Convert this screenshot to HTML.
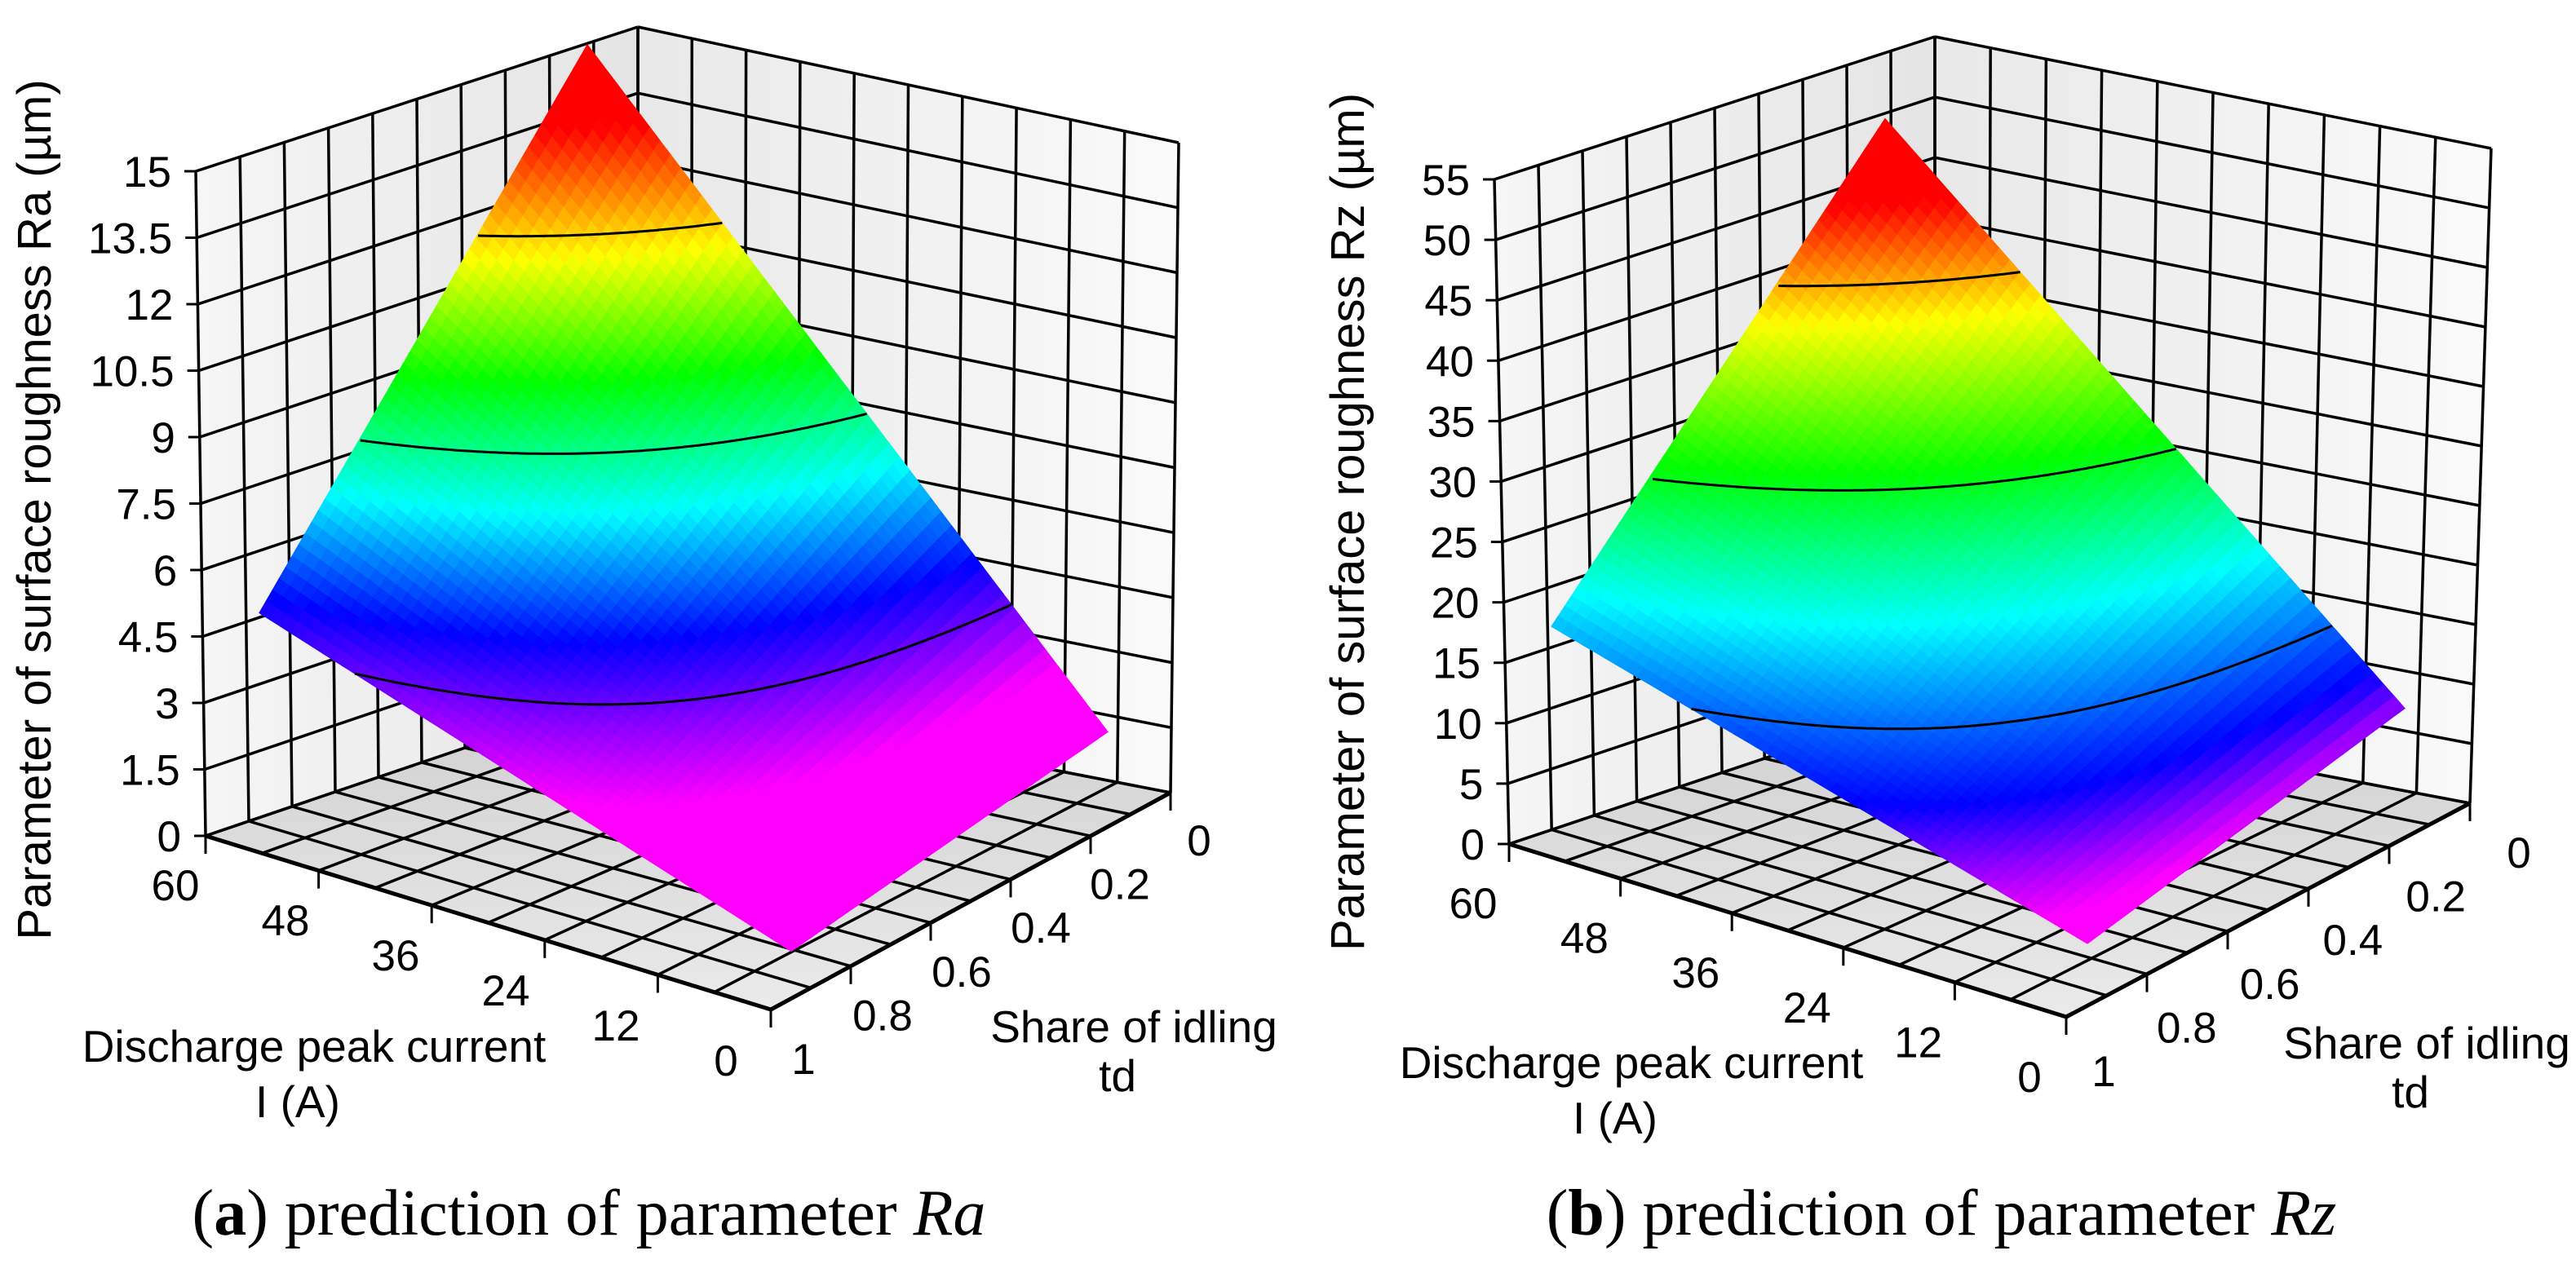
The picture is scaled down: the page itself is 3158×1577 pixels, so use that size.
<!DOCTYPE html>
<html><head><meta charset="utf-8">
<style>
html,body{margin:0;padding:0;background:#fff;}
svg{display:block;}
text{font-family:"Liberation Sans",Arial,sans-serif;fill:#000;}
.cap{font-family:"Liberation Serif","Times New Roman",serif;}
</style></head>
<body>
<svg id="fig" width="3158" height="1577" viewBox="0 0 3158 1577" xmlns="http://www.w3.org/2000/svg">
<defs>
<linearGradient id="wallL" x1="0" y1="0" x2="1" y2="0"><stop offset="0" stop-color="#f6f6f6"/><stop offset="1" stop-color="#e4e4e4"/></linearGradient>
<linearGradient id="wallR" x1="0" y1="0" x2="1" y2="0"><stop offset="0" stop-color="#e8e8e8"/><stop offset="1" stop-color="#fafafa"/></linearGradient>
<linearGradient id="floorG" x1="0" y1="0" x2="0" y2="1"><stop offset="0" stop-color="#cfcfcf"/><stop offset="1" stop-color="#eaeaea"/></linearGradient>
</defs>
<g id="chartA"></g>
<g id="chartB"></g>
<text class="cap" x="722" y="1514" font-size="80" text-anchor="middle">(<tspan font-weight="bold">a</tspan>) prediction of parameter <tspan font-style="italic">Ra</tspan></text>
<text class="cap" x="2380" y="1514" font-size="80" text-anchor="middle">(<tspan font-weight="bold">b</tspan>) prediction of parameter <tspan font-style="italic">Rz</tspan></text>
</svg>
<script>
// ---- data ----
const currentValues = [0, 30, 60];            // I (A) grid
const idlingValues = [0, 0.5, 1];            // td grid
// rows = td, cols = I
const raGrid = [
  [1.5, 9.6, 17.7],
  [1.4, 6.4, 11.45],
  [1.3, 3.25, 5.2]
];
const rzGrid = [
  [8, 33, 58],
  [6.5, 22.4, 38.2],
  [5, 11.8, 18.5]
];
const raTicks = ["0","1.5","3","4.5","6","7.5","9","10.5","12","13.5","15"];
const rzTicks = ["0","5","10","15","20","25","30","35","40","45","50","55"];
const iTicks = ["60","48","36","24","12","0"];
const tdTicks = ["0","0.2","0.4","0.6","0.8","1"];
const raContours = [4.5, 9, 13.5];
const rzContours = [15, 30, 45];

const NS = "http://www.w3.org/2000/svg";
function mk(parent, tag, attrs){
  const e = document.createElementNS(NS, tag);
  for (const k in attrs) e.setAttribute(k, attrs[k]);
  parent.appendChild(e);
  return e;
}
function lerp(a,b,t){return [a[0]+(b[0]-a[0])*t, a[1]+(b[1]-a[1])*t];}
function bil(q00,q10,q01,q11,u,v){
  return [(1-u)*(1-v)*q00[0]+u*(1-v)*q10[0]+(1-u)*v*q01[0]+u*v*q11[0],
          (1-u)*(1-v)*q00[1]+u*(1-v)*q10[1]+(1-u)*v*q01[1]+u*v*q11[1]];
}
function gridVal(grid,u,v){
  const Imax = currentValues[currentValues.length-1];
  const I = u*Imax, td = v;
  let ci = 0; while (ci < currentValues.length-2 && I > currentValues[ci+1]) ci++;
  let ri = 0; while (ri < idlingValues.length-2 && td > idlingValues[ri+1]) ri++;
  const tu = (I-currentValues[ci])/(currentValues[ci+1]-currentValues[ci]);
  const tv = (td-idlingValues[ri])/(idlingValues[ri+1]-idlingValues[ri]);
  const a=grid[ri][ci], b=grid[ri][ci+1], c=grid[ri+1][ci], d=grid[ri+1][ci+1];
  return (1-tu)*(1-tv)*a + tu*(1-tv)*b + (1-tu)*tv*c + tu*tv*d;
}
function colorFor(z, stops){
  const cols = [[255,0,255],[0,0,255],[0,255,255],[0,255,0],[255,255,0],[255,0,0]];
  if (z <= stops[0]) return "rgb(255,0,255)";
  for (let i=0;i<stops.length-1;i++){
    if (z <= stops[i+1]){
      const t=(z-stops[i])/(stops[i+1]-stops[i]);
      const c=cols[i].map((x,k)=>Math.round(x+(cols[i+1][k]-x)*t));
      return "rgb("+c.join(",")+")";
    }
  }
  return "rgb(255,0,0)";
}

function drawChart(g, cfg){
  const B = cfg.box;
  const lw = mk(g,"polygon",{points:[B.lt,B.bt,B.bb,B.lb].map(p=>p.join(",")).join(" "),fill:"url(#wallL)",stroke:"none"});
  
  
  const rw = mk(g,"polygon",{points:[B.bt,B.rt,B.rb,B.bb].map(p=>p.join(",")).join(" "),fill:"url(#wallR)",stroke:"none"});
  
  
  const fl = mk(g,"polygon",{points:[B.lb,B.bb,B.rb,B.fb].map(p=>p.join(",")).join(" "),fill:"url(#floorG)",stroke:"none"});
  
  
  const gl = mk(g,"g",{stroke:"#000","stroke-width":3.5,fill:"none"});
  
  
  const nz = cfg.zTicks.length-1;
  const line=(a,b,w)=>mk(gl,"line",{x1:a[0],y1:a[1],x2:b[0],y2:b[1],"stroke-width":w||3.5});
  for (let k=0;k<=nz;k++){
    const t=k/nz;
    line(lerp(B.lb,B.lt,t), lerp(B.bb,B.bt,t));
    line(lerp(B.bb,B.bt,t), lerp(B.rb,B.rt,t));
  }
  for (let k=0;k<=10;k++){
    const t=k/10;
    line(lerp(B.lb,B.bb,t), lerp(B.lt,B.bt,t));
    line(lerp(B.bb,B.rb,t), lerp(B.bt,B.rt,t));
    line(lerp(B.lb,B.bb,t), lerp(B.fb,B.rb,t));
    line(lerp(B.lb,B.fb,t), lerp(B.bb,B.rb,t));
  }
  line(B.lb,B.fb,5); line(B.fb,B.rb,5);
  for (let k=0;k<=5;k++){
    const p=lerp(B.lb,B.fb,k/5); line(p,[p[0],p[1]+22],3);
    const q=lerp(B.fb,B.rb,k/5); line(q,[q[0],q[1]+22],3);
  }
  for (let k=0;k<=nz;k++){
    const p=lerp(B.lb,B.lt,k/nz); line([p[0]-14,p[1]],p,3);
  }

  const Q = cfg.q, s = cfg.zScale;
  const P=(u,v)=>{const z=gridVal(cfg.grid,u,v); const f=bil(Q.q00,Q.q10,Q.q01,Q.q11,u,v); return [f[0], f[1]-z*s];};
  const N=50, cells=[];
  for (let i=0;i<N;i++) for (let j=0;j<N;j++) cells.push([i,j]);
  cells.sort((a,b)=>((b[0]-b[1])-(a[0]-a[1])));
  const sg = mk(g,"g",{});
  
  
  for (const [i,j] of cells){
    const u0=i/N,u1=(i+1)/N,v0=j/N,v1=(j+1)/N;
    const pts=[P(u0,v0),P(u1,v0),P(u1,v1),P(u0,v1)];
    const col=colorFor(gridVal(cfg.grid,(u0+u1)/2,(v0+v1)/2),cfg.stops);
    mk(sg,"polygon",{points:pts.map(p=>p[0].toFixed(1)+","+p[1].toFixed(1)).join(" "),fill:col,stroke:col,"stroke-width":1.2});
  }
  for (const L of cfg.contours){
    const pts=[];
    for (let k=0;k<=200;k++){
      const v=k/200;
      const f0=gridVal(cfg.grid,0,v), f1=gridVal(cfg.grid,1,v);
      if ((L-f0)*(L-f1)>0) continue;
      let lo=0,hi=1;
      for (let it=0;it<40;it++){const m=(lo+hi)/2; if((gridVal(cfg.grid,m,v)-L)*(f0-L)>0) lo=m; else hi=m;}
      const p=P((lo+hi)/2,v); pts.push(p[0].toFixed(1)+","+p[1].toFixed(1));
    }
    const c = mk(g,"polyline",{points:pts.join(" "),fill:"none",stroke:"#000","stroke-width":3});
    
    
  }
  for (let k=0;k<=nz;k++){
    const p=lerp(B.lb,B.lt,k/nz);
    const t=mk(g,"text",{x:p[0]-30,y:p[1]+19,"font-size":53,"text-anchor":"end"});
    t.textContent=cfg.zTicks[k];
    
    
  }
  for (let k=0;k<iTicks.length;k++){
    const p=lerp(cfg.iLab0,cfg.iLab1,k/(iTicks.length-1));
    const t=mk(g,"text",{x:p[0],y:p[1]+19,"font-size":53,"text-anchor":"middle"});
    t.textContent=iTicks[k];
    
    
  }
  for (let k=0;k<tdTicks.length;k++){
    const p=lerp(cfg.tLab0,cfg.tLab1,k/(tdTicks.length-1));
    const t=mk(g,"text",{x:p[0],y:p[1]+19,"font-size":53,"text-anchor":"middle"});
    t.textContent=tdTicks[k];
    
    
  }
  const yt=mk(g,"text",{x:0,y:0,"font-size":58,"text-anchor":"middle",transform:"translate("+cfg.yTitle[0]+","+cfg.yTitle[1]+") rotate(-90)"});
  yt.textContent=cfg.yTitleText;
  
  
  const a1=mk(g,"text",{x:cfg.iTitle[0],y:cfg.iTitle[1],"font-size":55,"text-anchor":"middle"});
  a1.textContent="Discharge peak current";
  
  
  const a2=mk(g,"text",{x:cfg.iTitle[0]-20,y:cfg.iTitle[1]+68,"font-size":55,"text-anchor":"middle"});
  a2.textContent="I (A)";
  
  
  const b1=mk(g,"text",{x:cfg.tTitle[0],y:cfg.tTitle[1],"font-size":55,"text-anchor":"middle"});
  b1.textContent="Share of idling";
  
  
  const b2=mk(g,"text",{x:cfg.tTitle[0]-20,y:cfg.tTitle[1]+60,"font-size":55,"text-anchor":"middle"});
  b2.textContent="td";
  
  
}

drawChart(document.getElementById("chartA"),{
  box:{lt:[240,210],lb:[252,1025],bt:[782,33],bb:[782,845],rt:[1445,175],rb:[1435,972],fb:[945,1238]},
  q:{q00:[1358,979],q10:[720,1016],q01:[970,1237],q11:[318,1034]},
  zScale:54.3, grid:raGrid, stops:[3,5.5,7.8,10.4,13,15.8], contours:raContours,
  zTicks:raTicks, iLab0:[215,1085], iLab1:[890,1300], tLab0:[1470,1030], tLab1:[985,1298],
  yTitle:[62,625], yTitleText:"Parameter of surface roughness Ra (\u00b5m)",
  iTitle:[385,1302], tTitle:[1390,1278]
});
drawChart(document.getElementById("chartB"),{
  box:{lt:[1832,220],lb:[1850,1035],bt:[2372,45],bb:[2372,860],rt:[3054,182],rb:[3028,985],fb:[2533,1247]},
  q:{q00:[2948,987],q10:[2311,1004],q01:[2559,1231],q11:[1902,1042]},
  zScale:14.8, grid:rzGrid, stops:[6,11,21,31,42,51], contours:rzContours,
  zTicks:rzTicks, iLab0:[1806,1107], iLab1:[2488,1320], tLab0:[3088,1045], tLab1:[2579,1313],
  yTitle:[1672,640], yTitleText:"Parameter of surface roughness Rz (\u00b5m)",
  iTitle:[2000,1322], tTitle:[2975,1298]
});
</script>
</body></html>
